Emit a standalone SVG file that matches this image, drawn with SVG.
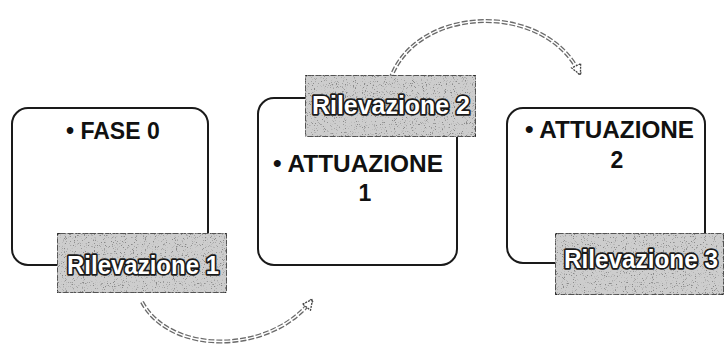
<svg xmlns="http://www.w3.org/2000/svg" width="725" height="345" viewBox="0 0 725 345">
<style>
.box{fill:#fff;stroke:#1a1a1a;stroke-width:2}
.lbl{fill:#cdcdcd;stroke:#2a2a2a;stroke-width:1.5;stroke-dasharray:6 1.5}
.t{font-family:"Liberation Sans",Arial,sans-serif;font-weight:bold;font-size:23px;fill:#111}
.lt{font-family:"Liberation Sans",Arial,sans-serif;font-weight:bold;font-size:25px;fill:#fff;stroke:#1a1a1a;stroke-width:3.5;paint-order:stroke;stroke-linejoin:round}
.arcout{fill:none;stroke:#6a6a6a;stroke-width:4;stroke-dasharray:6 2}
.arcin{fill:none;stroke:#fff;stroke-width:1.4}
</style>
<defs>
<filter id="speckle" x="0" y="0" width="1" height="1">
<feTurbulence type="fractalNoise" baseFrequency="0.9" numOctaves="2" seed="4" result="n"/>
<feColorMatrix in="n" type="matrix" values="0 0 0 0 0.25  0 0 0 0 0.25  0 0 0 0 0.25  -7 0 0 0 2.8" result="dots"/>
<feComposite in="dots" in2="SourceGraphic" operator="atop"/>
</filter>
<marker id="ah" markerWidth="14" markerHeight="14" refX="10" refY="6" orient="auto" markerUnits="userSpaceOnUse">
<path d="M1,1 L11,6 L1,11 Z" fill="#fff" stroke="#444" stroke-width="1.3" stroke-dasharray="2 1"/>
</marker>
</defs>
<g id="connectors">
<path class="arcout" d="M390,80 C415,5 545,0 580,74"/>
<path class="arcin" d="M390,80 C415,5 545,0 580,74" marker-end="url(#ah)"/>
<path class="arcout" d="M142,302 C170,355 270,355 312,300"/>
<path class="arcin" d="M142,302 C170,355 270,355 312,300" marker-end="url(#ah)"/>
</g>
<g id="fase0">
<rect class="box" x="12" y="108" width="196" height="157" rx="16"/>
<text class="t" x="66" y="139">• FASE 0</text>
</g>
<g id="attuazione1">
<rect class="box" x="258" y="98" width="199" height="167" rx="16"/>
<text class="t" x="273" y="172" textLength="170" lengthAdjust="spacingAndGlyphs">• ATTUAZIONE</text>
<text class="t" x="365" y="201" text-anchor="middle">1</text>
</g>
<g id="attuazione2">
<rect class="box" x="507" y="108" width="198" height="155" rx="16"/>
<text class="t" x="525" y="138" textLength="169" lengthAdjust="spacingAndGlyphs">• ATTUAZIONE</text>
<text class="t" x="617" y="168" text-anchor="middle">2</text>
</g>
<g id="rilevazione1">
<rect class="lbl" x="57" y="233" width="170" height="60" rx="3" filter="url(#speckle)"/>
<text class="lt" x="67" y="274" textLength="152" lengthAdjust="spacingAndGlyphs">Rilevazione 1</text>
</g>
<g id="rilevazione2">
<rect class="lbl" x="305" y="75" width="171" height="62" rx="3" filter="url(#speckle)"/>
<text class="lt" x="312" y="114" textLength="158" lengthAdjust="spacingAndGlyphs">Rilevazione 2</text>
</g>
<g id="rilevazione3">
<rect class="lbl" x="555" y="233" width="169" height="62" rx="3" filter="url(#speckle)"/>
<text class="lt" x="564" y="268" textLength="154" lengthAdjust="spacingAndGlyphs">Rilevazione 3</text>
</g>
</svg>
